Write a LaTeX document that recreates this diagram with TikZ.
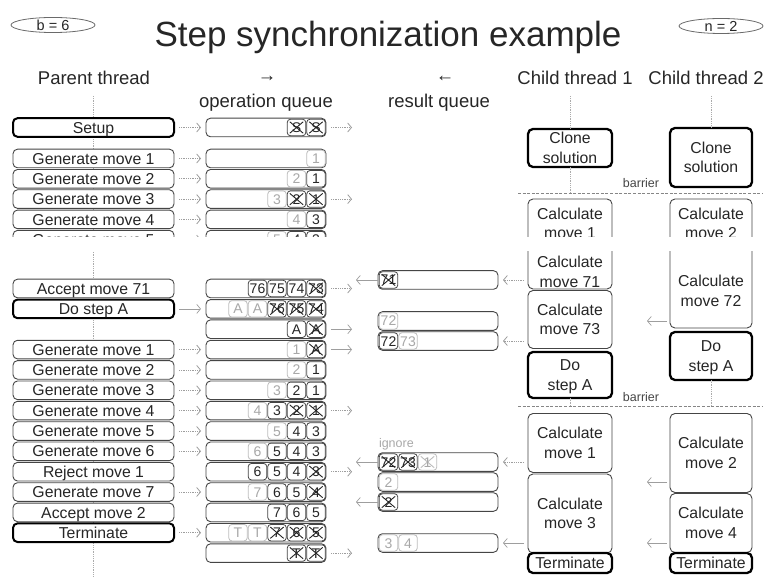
\documentclass[tikz,border=0pt]{standalone}
\usepackage{fontspec}
\setmainfont{Liberation Sans}
\usetikzlibrary{shapes.geometric,arrows.meta}

\definecolor{ink}{HTML}{262626}
\definecolor{edge}{HTML}{454545}
\definecolor{pale}{HTML}{BDBDBD}
\definecolor{paletext}{HTML}{A8A8A8}
\definecolor{guide}{HTML}{ABABAB}
\definecolor{flow}{HTML}{9E9E9E}

\newcommand\setpx[1]{\fontsize{#1}{#1}\selectfont}
% queue cell, counted from the right end of an operation-queue row
\newcommand\oc[4]{\node[#3] (#1-#2) at ([xshift={-10pt-19.5pt*(#2-1)}]#1.east) {#4};}
% queue cell, counted from the left end of a result-queue row
\newcommand\rc[4]{\node[#3] (#1-#2) at ([xshift={10.5pt+19.5pt*(#2-1)}]#1.west) {#4};}
% parent thread hands an operation to the queue
\newcommand\feed[2][dflow]{\draw[#1, shorten <=5pt, shorten >=5pt] (p#2) -- (o#2);}
% queue hands an operation on to a child thread
\newcommand\pass[2][dflow]{\draw[#1, shorten <=5pt] (o#2.east) -- ++(26,0);}

\tikzset{
  every node/.style={inner sep=0pt, outer sep=0pt, text=ink},
  rowbox/.style={draw=edge, line width=0.9pt, rounded corners=4.5pt, fill=white,
    minimum height=18.6pt, font=\setpx{15.8}, text height=11.3pt, text depth=0pt},
  pbox/.style={rowbox, minimum width=161pt},
  pkey/.style={pbox, draw=black, line width=2pt},
  obox/.style={rowbox, minimum width=120pt},
  rbox/.style={rowbox, minimum width=120pt},
  cellbase/.style={rounded corners=3pt, minimum width=18.4pt, minimum height=16.4pt,
    line width=0.8pt, font=\setpx{14}, text height=10pt, text depth=0pt},
  cn/.style={cellbase, draw=edge},
  cf/.style={cellbase, draw=pale, text=paletext},
  crossed/.style={path picture={\draw[#1, line width=0.9pt]
    ([shift={(2.5pt,2.5pt)}]path picture bounding box.south west) --
    ([shift={(-2.5pt,-2.5pt)}]path picture bounding box.north east)
    ([shift={(2.5pt,-2.5pt)}]path picture bounding box.north west) --
    ([shift={(-2.5pt,2.5pt)}]path picture bounding box.south east);}},
  cx/.style={cn, crossed=ink},
  cfx/.style={cf, crossed=pale},
  ctext/.style={font=\fontsize{15.8}{19.5}\selectfont, align=center, text depth=0pt},
  cbox/.style={ctext, draw=edge, line width=0.9pt, rounded corners=5pt, fill=white,
    minimum width=84pt},
  cbox2/.style={cbox, minimum width=82pt},
  ckey/.style={cbox, draw=black, line width=2.3pt},
  ckey2/.style={ckey, minimum width=82pt},
  tipb/.style={-{Straight Barb[length=3.8pt,width=9pt]}},
  dflow/.style={draw=flow, line width=0.8pt, densely dotted, tipb},
  sflow/.style={draw=flow, line width=0.7pt, tipb},
  life/.style={draw=guide, line width=0.8pt, densely dotted},
  sync/.style={draw=flow!85!black, line width=0.8pt, dash pattern=on 3pt off 1.6pt},
  note/.style={font=\setpx{12.5}, text=edge, anchor=base},
  head/.style={font=\setpx{18.5}, anchor=base},
  param/.style={ellipse, draw=edge!80, line width=0.8pt, minimum width=84pt,
    minimum height=15pt, font=\setpx{14.5}},
}

\begin{document}
\begin{tikzpicture}[x=1pt,y=-1pt]
\useasboundingbox (0,0) rectangle (771,577);

% ---------- heading ----------
\node[param] (bval) at (53,25) {b = 6};
\node[param] (nval) at (721,26) {n = 2};
\node[font=\setpx{35}, anchor=base] (title) at (388,47) {Step synchronization example};
\node[head] (hP) at (94,85) {Parent thread};
\node[font=\setpx{18.5}] (hOdir) at (267,79) {→};
\node[head] (hO) at (266,108) {operation queue};
\node[font=\setpx{18.5}] (hRdir) at (445,79) {←};
\node[head] (hR) at (439,108) {result queue};
\node[head] (hC1) at (575,85) {Child thread 1};
\node[head] (hC2) at (706,85) {Child thread 2};

% ---------- start of the run ----------
\begin{scope}
  \clip (0,90) rectangle (771,237);
  \coordinate (pTop) at (93.5,96);
  \coordinate (pCut) at (93.5,237);
  \draw[life] (pTop) -- (pCut);

  \node[pkey] (pS) at (93.5,127.5) {Setup};
  \node[obox] (oS) at (266,127.5) {};
  \oc{oS}{1}{cx}{S}\oc{oS}{2}{cx}{S}
  \feed{S}\pass{S}

  \node[pbox] (pU1) at (93.5,158.5) {Generate move 1};
  \node[obox] (oU1) at (266,158.5) {};
  \oc{oU1}{1}{cf}{1}
  \feed{U1}

  \node[pbox] (pU2) at (93.5,178.8) {Generate move 2};
  \node[obox] (oU2) at (266,178.8) {};
  \oc{oU2}{1}{cn}{1}\oc{oU2}{2}{cf}{2}
  \feed{U2}

  \node[pbox] (pU3) at (93.5,199.1) {Generate move 3};
  \node[obox] (oU3) at (266,199.1) {};
  \oc{oU3}{1}{cx}{1}\oc{oU3}{2}{cx}{2}\oc{oU3}{3}{cf}{3}
  \feed{U3}\pass{U3}

  \node[pbox] (pU4) at (93.5,219.4) {Generate move 4};
  \node[obox] (oU4) at (266,219.4) {};
  \oc{oU4}{1}{cn}{3}\oc{oU4}{2}{cf}{4}
  \feed{U4}

  \node[pbox] (pU5) at (93.5,239.7) {Generate move 5};
  \node[obox] (oU5) at (266,239.7) {};
  \oc{oU5}{1}{cn}{3}\oc{oU5}{2}{cn}{4}\oc{oU5}{3}{cf}{5}
  \feed{U5}

  % child threads
  \coordinate (c1Top) at (570,96);
  \coordinate (c2Top) at (711,96);
  \coordinate (c1Bar) at (570,193);
  \node[ckey, minimum height=38pt] (c1clone) at (570,148) {Clone\\solution};
  \node[ckey2, minimum height=59pt] (c2clone) at (711,157.5) {Clone\\solution};
  \draw[life] (c1Top) -- (c1clone.north);
  \draw[life] (c2Top) -- (c2clone.north);
  \draw[life] (c1clone.south) -- (c1Bar);
  \node[cbox, minimum height=49pt] (c1m1) at (570,223.5) {Calculate\\move 1};
  \node[cbox2, minimum height=49pt] (c2m2) at (711,223.5) {Calculate\\move 2};
\end{scope}

% first barrier
\coordinate (bar1w) at (518,193);
\coordinate (bar1e) at (762,193);
\draw[sync] (bar1w) -- (bar1e);
\node[note] (bar1t) at (641,188) {barrier};

% ---------- later in the run ----------
\begin{scope}
  \clip (0,252) rectangle (771,577);
  \coordinate (pResume) at (93.5,250);
  \coordinate (pEnd) at (93.5,577);
  \draw[life] (pResume) -- (pEnd);

  \node[pbox] (pL1) at (93.5,288.5) {Accept move 71};
  \node[obox] (oL1) at (266,288.5) {};
  \oc{oL1}{1}{cx}{73}\oc{oL1}{2}{cn}{74}\oc{oL1}{3}{cn}{75}\oc{oL1}{4}{cn}{76}
  \pass{L1}

  \node[pkey] (pL2) at (93.5,308.9) {Do step A};
  \node[obox] (oL2) at (266,308.9) {};
  \oc{oL2}{1}{cx}{74}\oc{oL2}{2}{cx}{75}\oc{oL2}{3}{cx}{76}\oc{oL2}{4}{cf}{A}\oc{oL2}{5}{cf}{A}
  \feed[sflow]{L2}

  \node[obox] (oL3) at (266,329.2) {};
  \oc{oL3}{1}{cx}{A}\oc{oL3}{2}{cn}{A}
  \pass[sflow]{L3}

  \node[pbox] (pL4) at (93.5,349.6) {Generate move 1};
  \node[obox] (oL4) at (266,349.6) {};
  \oc{oL4}{1}{cx}{A}\oc{oL4}{2}{cf}{1}
  \feed{L4}\pass[sflow]{L4}

  \node[pbox] (pL5) at (93.5,369.9) {Generate move 2};
  \node[obox] (oL5) at (266,369.9) {};
  \oc{oL5}{1}{cn}{1}\oc{oL5}{2}{cf}{2}
  \feed{L5}

  \node[pbox] (pL6) at (93.5,390.3) {Generate move 3};
  \node[obox] (oL6) at (266,390.3) {};
  \oc{oL6}{1}{cn}{1}\oc{oL6}{2}{cn}{2}\oc{oL6}{3}{cf}{3}
  \feed{L6}

  \node[pbox] (pL7) at (93.5,410.6) {Generate move 4};
  \node[obox] (oL7) at (266,410.6) {};
  \oc{oL7}{1}{cx}{1}\oc{oL7}{2}{cx}{2}\oc{oL7}{3}{cn}{3}\oc{oL7}{4}{cf}{4}
  \feed{L7}\pass{L7}

  \node[pbox] (pL8) at (93.5,431.0) {Generate move 5};
  \node[obox] (oL8) at (266,431.0) {};
  \oc{oL8}{1}{cn}{3}\oc{oL8}{2}{cn}{4}\oc{oL8}{3}{cf}{5}
  \feed{L8}

  \node[pbox] (pL9) at (93.5,451.3) {Generate move 6};
  \node[obox] (oL9) at (266,451.3) {};
  \oc{oL9}{1}{cn}{3}\oc{oL9}{2}{cn}{4}\oc{oL9}{3}{cn}{5}\oc{oL9}{4}{cf}{6}
  \feed{L9}

  \node[pbox] (pL10) at (93.5,471.7) {Reject move 1};
  \node[obox] (oL10) at (266,471.7) {};
  \oc{oL10}{1}{cx}{3}\oc{oL10}{2}{cn}{4}\oc{oL10}{3}{cn}{5}\oc{oL10}{4}{cn}{6}
  \pass{L10}

  \node[pbox] (pL11) at (93.5,492.0) {Generate move 7};
  \node[obox] (oL11) at (266,492.0) {};
  \oc{oL11}{1}{cx}{4}\oc{oL11}{2}{cn}{5}\oc{oL11}{3}{cn}{6}\oc{oL11}{4}{cf}{7}
  \feed{L11}

  \node[pbox] (pL12) at (93.5,512.4) {Accept move 2};
  \node[obox] (oL12) at (266,512.4) {};
  \oc{oL12}{1}{cn}{5}\oc{oL12}{2}{cn}{6}\oc{oL12}{3}{cn}{7}

  \node[pkey] (pL13) at (93.5,532.7) {Terminate};
  \node[obox] (oL13) at (266,532.7) {};
  \oc{oL13}{1}{cx}{5}\oc{oL13}{2}{cx}{6}\oc{oL13}{3}{cx}{7}\oc{oL13}{4}{cf}{T}\oc{oL13}{5}{cf}{T}
  \feed{L13}

  \node[obox] (oL14) at (266,553.1) {};
  \oc{oL14}{1}{cx}{T}\oc{oL14}{2}{cx}{T}
  \pass{L14}

  % child thread 1
  \node[cbox, minimum height=49pt] (c1m71) at (570,264.5) {};
  \node[ctext] (c1m71t) at (570,272) {Calculate\\move 71};
  \node[cbox, minimum height=58pt] (c1m73) at (570,319.5) {Calculate\\move 73};
  \node[ckey, minimum height=46pt] (c1A) at (570,375) {Do\\step A};
  \node[cbox, minimum height=59pt] (c1m1b) at (570,443) {Calculate\\move 1};
  \node[cbox, minimum height=79pt] (c1m3) at (570,513.5) {Calculate\\move 3};
  \node[ckey, minimum height=20pt] (c1T) at (570,563) {Terminate};

  % child thread 2
  \node[cbox2, minimum height=88pt] (c2m72) at (711,284) {};
  \node[ctext] (c2m72t) at (711,291) {Calculate\\move 72};
  \node[ckey2, minimum height=48pt] (c2A) at (711,356) {Do\\step A};
  \node[cbox2, minimum height=79pt] (c2m2b) at (711,453) {Calculate\\move 2};
  \node[cbox2, minimum height=59pt] (c2m4) at (711,523) {Calculate\\move 4};
  \node[ckey2, minimum height=20pt] (c2T) at (711,563) {Terminate};

  % result queue
  \node[rbox] (r1) at (438,280) {};
  \rc{r1}{1}{cx}{71}
  \node[rbox] (r2) at (438,321) {};
  \rc{r2}{1}{cf}{72}
  \node[rbox] (r3) at (438,341) {};
  \rc{r3}{1}{cn}{72}\rc{r3}{2}{cf}{73}
  \node[rbox] (r4) at (438,462) {};
  \rc{r4}{1}{cx}{72}\rc{r4}{2}{cx}{73}\rc{r4}{3}{cfx}{1}
  \node[font=\setpx{12.5}, text=paletext, anchor=base west] (ign) at (379,447) {ignore};
  \node[rbox] (r5) at (438,482) {};
  \rc{r5}{1}{cf}{2}
  \node[rbox] (r6) at (438,502) {};
  \rc{r6}{1}{cx}{2}
  \node[rbox] (r7) at (438,543) {};
  \rc{r7}{1}{cf}{3}\rc{r7}{2}{cf}{4}

  % results taken by the parent thread
  \draw[sflow] (r1.west) -- ++(-22,0);
  \draw[sflow] (r4.west) -- ++(-22,0);
  \draw[sflow] (r6.west) -- ++(-22,0);

  % results delivered by the child threads
  \draw[dflow, shorten <=4pt, shorten >=5pt] (c1m71.west |- r1) -- (r1.east);
  \draw[dflow, shorten <=4pt, shorten >=5pt] (c1m73.west |- r3) -- (r3.east);
  \draw[dflow, shorten <=4pt, shorten >=5pt] (c1m1b.west |- r4) -- (r4.east);
  \draw[sflow, shorten <=4pt, shorten >=5pt] (c1m3.west |- r7) -- (r7.east);
  \draw[sflow, shorten <=3pt] (c2m72.west |- r2) -- ++(-23,0);
  \draw[sflow, shorten <=3pt] (c2m2b.west |- r5) -- ++(-23,0);
  \draw[sflow, shorten <=3pt] (c2m4.west |- r7) -- ++(-23,0);

  % second barrier
  \coordinate (c1Bar2) at (570,406);
  \coordinate (c2Bar2) at (711,406);
  \draw[life] (c1A.south) -- (c1Bar2);
  \draw[life] (c2A.south) -- (c2Bar2);
  \coordinate (bar2w) at (518,406);
  \coordinate (bar2e) at (762,406);
  \draw[sync] (bar2w) -- (bar2e);
  \node[note] (bar2t) at (641,401) {barrier};
\end{scope}
\end{tikzpicture}
\end{document}
